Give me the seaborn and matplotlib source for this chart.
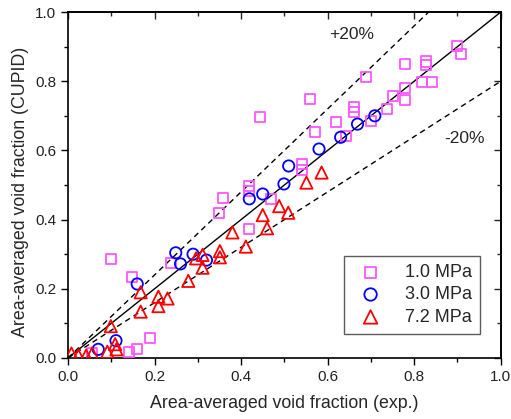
import numpy as np
import pandas as pd
import matplotlib
matplotlib.use("Agg")
import matplotlib.pyplot as plt
from matplotlib.ticker import MultipleLocator
import seaborn as sns

# 1.0 MPa (pink squares)
x_10 = [0.056, 0.100, 0.149, 0.239, 0.189, 0.159, 0.140, 0.359, 0.349, 0.419, 0.419,
        0.469, 0.419, 0.443, 0.559, 0.661, 0.661, 0.619, 0.570, 0.642, 0.700, 0.540,
        0.540, 0.688, 0.778, 0.828, 0.828, 0.898, 0.909, 0.819, 0.840, 0.778, 0.778,
        0.750, 0.738]
y_10 = [0.013, 0.285, 0.233, 0.274, 0.057, 0.027, 0.017, 0.463, 0.418, 0.482, 0.496,
        0.460, 0.372, 0.697, 0.748, 0.726, 0.712, 0.681, 0.654, 0.642, 0.685, 0.561,
        0.543, 0.813, 0.851, 0.857, 0.847, 0.902, 0.878, 0.799, 0.797, 0.779, 0.746,
        0.758, 0.719]

# 3.0 MPa (blue circles)
x_30 = [0.070, 0.111, 0.160, 0.249, 0.260, 0.289, 0.320, 0.419, 0.450, 0.499, 0.510,
        0.580, 0.630, 0.669, 0.709]
y_30 = [0.025, 0.050, 0.214, 0.304, 0.272, 0.300, 0.283, 0.460, 0.474, 0.503, 0.555,
        0.604, 0.638, 0.676, 0.700]

# 7.2 MPa (red triangles)
x_72 = [0.008, 0.024, 0.042, 0.056, 0.091, 0.109, 0.112, 0.099, 0.168, 0.168, 0.209,
        0.230, 0.209, 0.278, 0.296, 0.311, 0.311, 0.351, 0.351, 0.380, 0.411, 0.450,
        0.460, 0.488, 0.509, 0.551, 0.586]
y_72 = [0.013, 0.007, 0.007, 0.013, 0.018, 0.040, 0.025, 0.092, 0.190, 0.134, 0.177,
        0.172, 0.150, 0.223, 0.288, 0.298, 0.261, 0.309, 0.291, 0.363, 0.322, 0.413,
        0.375, 0.439, 0.420, 0.507, 0.536]

series = ["1.0 MPa", "3.0 MPa", "7.2 MPa"]
colors = {"1.0 MPa": "#ff55ff", "3.0 MPa": "#0000ff", "7.2 MPa": "#ff0000"}
markers = {"1.0 MPa": "s", "3.0 MPa": "o", "7.2 MPa": "^"}
sizes = {"1.0 MPa": 52, "3.0 MPa": 66, "7.2 MPa": 78}

df = pd.concat([
    pd.DataFrame({"exp": x_10, "cupid": y_10, "p": "1.0 MPa"}),
    pd.DataFrame({"exp": x_30, "cupid": y_30, "p": "3.0 MPa"}),
    pd.DataFrame({"exp": x_72, "cupid": y_72, "p": "7.2 MPa"}),
])

sns.set_style("ticks")
plt.rcParams["font.family"] = ["Liberation Sans", "DejaVu Sans"]

fig = plt.figure(figsize=(5.11, 4.19), dpi=100)
ax = fig.add_axes([0.133, 0.1456, 0.847, 0.8257])

# reference lines: y = x, +20 %, -20 %
xx = np.array([0.0, 1.0])
ax.plot(xx, xx, color="black", lw=1.0, zorder=1)
ax.plot([0, 1 / 1.2], [0, 1.0], color="black", lw=1.0, ls=(0, (4, 3)), zorder=1)
ax.plot(xx, 0.8 * xx, color="black", lw=1.0, ls=(0, (4, 3)), zorder=1)

for s in series:
    sub = df[df["p"] == s]
    sns.scatterplot(data=sub, x="exp", y="cupid", ax=ax, marker=markers[s],
                    s=sizes[s], color=colors[s], facecolor="none",
                    edgecolor=colors[s], linewidth=1.3, label=s, zorder=3)

ax.text(0.655, 0.934, "+20%", fontsize=12.5, ha="center", va="center")
ax.text(0.917, 0.633, "-20%", fontsize=12.5, ha="center", va="center")

ax.set_xlim(0, 1)
ax.set_ylim(0, 1)
ax.xaxis.set_major_locator(MultipleLocator(0.2))
ax.xaxis.set_minor_locator(MultipleLocator(0.1))
ax.yaxis.set_major_locator(MultipleLocator(0.2))
ax.yaxis.set_minor_locator(MultipleLocator(0.1))
ax.tick_params(which="both", direction="out", top=False, right=False,
               color="black", width=1.0, labelsize=11, labelcolor="#222222")
ax.tick_params(which="major", length=5)
ax.tick_params(which="minor", length=3)

secx = ax.secondary_xaxis("top")
secx.xaxis.set_major_locator(MultipleLocator(0.2))
secx.xaxis.set_minor_locator(MultipleLocator(0.1))
secx.tick_params(which="both", direction="in", labeltop=False, width=1.0)
secx.tick_params(which="major", length=5)
secx.tick_params(which="minor", length=3)
secy = ax.secondary_yaxis("right")
secy.yaxis.set_major_locator(MultipleLocator(0.2))
secy.yaxis.set_minor_locator(MultipleLocator(0.1))
secy.tick_params(which="both", direction="in", labelright=False, width=1.0)
secy.tick_params(which="major", length=5)
secy.tick_params(which="minor", length=3)
for sp in list(ax.spines.values()) + [secx.spines["top"], secy.spines["right"]]:
    sp.set_visible(True)
    sp.set_color("black")
    sp.set_linewidth(1.2)

ax.set_xlabel("Area-averaged void fraction (exp.)", fontsize=12.8, labelpad=8)
ax.set_ylabel("Area-averaged void fraction (CUPID)", fontsize=12.8)
ax.yaxis.set_label_coords(-0.09, 0.48)

leg = ax.legend(loc="lower right", bbox_to_anchor=(0.952, 0.07), fontsize=13,
                frameon=True, fancybox=False, edgecolor="#333333",
                handletextpad=0.9, borderpad=0.45, labelspacing=0.3,
                borderaxespad=0, markerscale=1.1)
leg.get_frame().set_linewidth(1.0)

fig.savefig("out.png", dpi=100)
